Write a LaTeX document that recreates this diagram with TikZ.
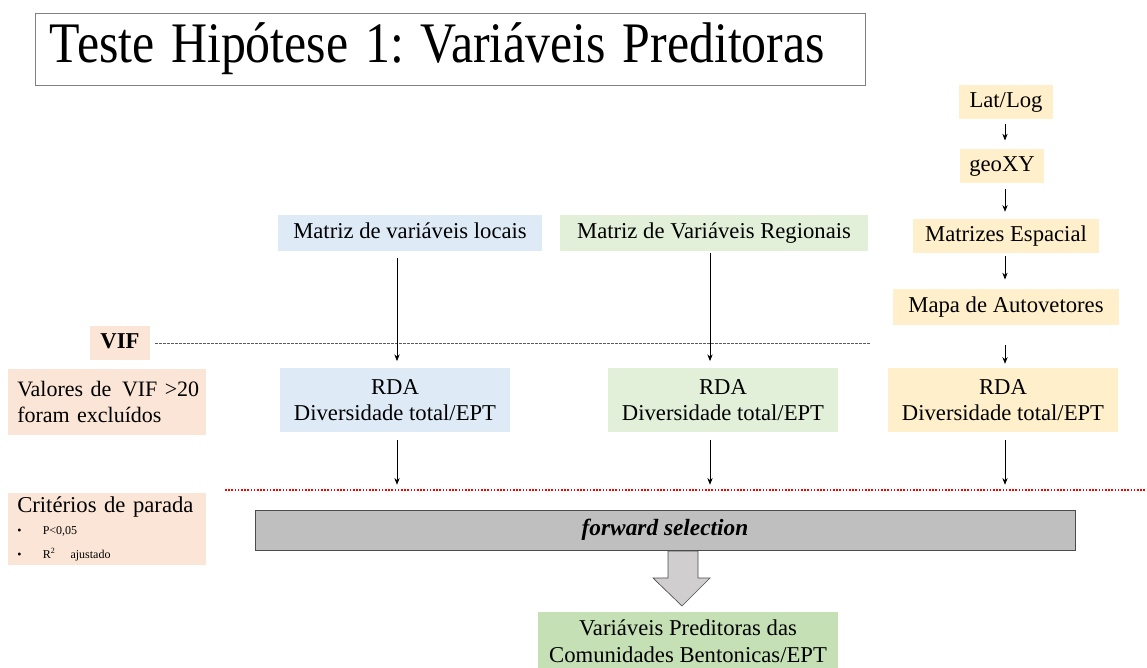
\documentclass[tikz,border=0pt]{standalone}
\usepackage{fontspec}
\usepackage{graphicx}
\setmainfont{Liberation Serif}
\frenchspacing
\usetikzlibrary{arrows.meta}
\definecolor{cblue}{HTML}{DEEBF7}
\definecolor{cgreen}{HTML}{E2F0D9}
\definecolor{cyell}{HTML}{FFEFCB}
\definecolor{cpeach}{HTML}{FBE5D6}
\definecolor{cres}{HTML}{C5E0B4}
\definecolor{cbar}{HTML}{BFBFBF}
\definecolor{carr}{HTML}{D0CECE}
\tikzset{
  box/.style={inner sep=0pt, align=center, font=\fontsize{17}{20}\selectfont},
  one/.style={text height=12pt, text depth=3.5pt},
  leftbox/.style={box, fill=cpeach, anchor=west, align=left, inner xsep=6.75pt, text width=134.5pt},
  arr/.style={-{Stealth[length=5pt,width=4pt]}, line width=0.5pt},
}
\begin{document}
\begin{tikzpicture}[x=0.75pt,y=-0.75pt]
\useasboundingbox (0,0) rectangle (1147,668);
% title
\node[draw=gray, line width=0.6pt, minimum width=622.5pt, minimum height=54pt,
      inner xsep=11pt, inner ysep=0pt, text width=600pt, align=left,
      font=\fontsize{43}{48}\selectfont] (title) at (450,49) {\scalebox{0.87}[1]{Teste Hipótese 1: Variáveis Preditoras}};
% right column
\node[box, one, fill=cyell, minimum width=70pt, minimum height=26pt] (latlog) at (1006,102) {Lat/Log};
\node[box, one, fill=cyell, minimum width=63pt, minimum height=26pt] (geoxy) at (1002,166) {geoXY};
\node[box, one, fill=cyell, minimum width=140pt, minimum height=26pt] (matesp) at (1006,236) {Matrizes Espacial};
\node[box, one, fill=cyell, minimum width=170pt, minimum height=27pt] (mapa) at (1006,307) {Mapa de Autovetores};
% matrices
\node[box, one, fill=cblue, minimum width=198pt, minimum height=27pt] (locais) at (410,233) {Matriz de variáveis locais};
\node[box, one, fill=cgreen, minimum width=231pt, minimum height=27pt] (regio) at (714,233) {Matriz de Variáveis Regionais};
% VIF
\node[box, one, fill=cpeach, minimum width=45pt, minimum height=26pt, font=\fontsize{17}{20}\selectfont\bfseries] (vif) at (120,343) {VIF};
\node[leftbox, minimum height=49pt, font=\fontsize{16.5}{20}\selectfont] (valores) at (8,402) {\mbox{Valores de\hspace{8pt}VIF >20}\\foram excluídos};
% RDA
\node[box, fill=cblue, minimum width=172pt, minimum height=48pt] (rda1) at (395,400) {RDA\\Diversidade total/EPT};
\node[box, fill=cgreen, minimum width=172pt, minimum height=48pt] (rda2) at (723,400) {RDA\\Diversidade total/EPT};
\node[box, fill=cyell, minimum width=172pt, minimum height=48pt] (rda3) at (1003,400) {RDA\\Diversidade total/EPT};
% criteria
\node[leftbox, minimum height=54pt] (crit) at (8,529)
  {\fontsize{17}{17}\selectfont Critérios de parada\\[-1pt]
   {\fontsize{9}{12}\selectfont\textbullet\hspace{16pt}P<0,05}\\[-2pt]
   {\fontsize{9}{12}\selectfont\textbullet\hspace{16pt}R\textsuperscript{2}\ \ ajustado}};
% forward selection
\node[box, one, fill=cbar, draw=gray!60!black, line width=0.6pt, minimum width=615pt, minimum height=30pt,
      font=\fontsize{17.5}{20}\selectfont\bfseries\itshape] (fwd) at (665,530) {forward selection};
% result
\node[box, fill=cres, minimum width=225pt, minimum height=43pt] (res) at (688,641) {Variáveis Preditoras das\\Comunidades Bentonicas/EPT};
% block arrow
\draw[fill=carr, draw=gray!60!black, line width=0.5pt]
  (668,551) -- (698,551) -- (698,578) -- (710,578) -- (682,606) -- (653,578) -- (668,578) -- cycle;
% lines
\coordinate (gL) at (155,343);
\coordinate (gR) at (870,343);
\draw[gray!70!black, dash pattern=on 2pt off 1pt, line width=0.6pt] (gL) -- (gR);
\coordinate (rL) at (225,490);
\coordinate (rR) at (1147,490);
\draw[red, dash pattern=on 1.2pt off 1.2pt, line width=1.1pt] (rL) -- (rR);
% arrows right column
\draw[arr, shorten <=3pt, shorten >=6pt] (latlog.south -| 1005,0) -- (geoxy.north -| 1005,0);
\draw[arr, shorten <=4pt, shorten >=5pt] (geoxy.south -| 1005,0) -- (matesp.north -| 1005,0);
\draw[arr, shorten <=2pt, shorten >=7pt] (matesp.south -| 1005,0) -- (mapa.north -| 1005,0);
\draw[arr, shorten <=15pt, shorten >=3pt] (mapa.south -| 1005,0) -- (rda3.north -| 1005,0);
% arrows matrices
\draw[arr, shorten <=5pt, shorten >=5pt] (locais.south -| 397,0) -- (rda1.north -| 397,0);
\draw[arr, shorten <=1pt, shorten >=5pt] (regio.south -| 710,0) -- (rda2.north -| 710,0);
% RDA to red line
\draw[arr, shorten <=6pt, shorten >=4pt] (rda1.south -| 397,0) -- (rL -| 397,0);
\draw[arr, shorten <=6pt, shorten >=4pt] (rda2.south -| 710,0) -- (rL -| 710,0);
\draw[arr, shorten <=6pt, shorten >=4pt] (rda3.south -| 1005,0) -- (rL -| 1005,0);
\end{tikzpicture}
\end{document}
